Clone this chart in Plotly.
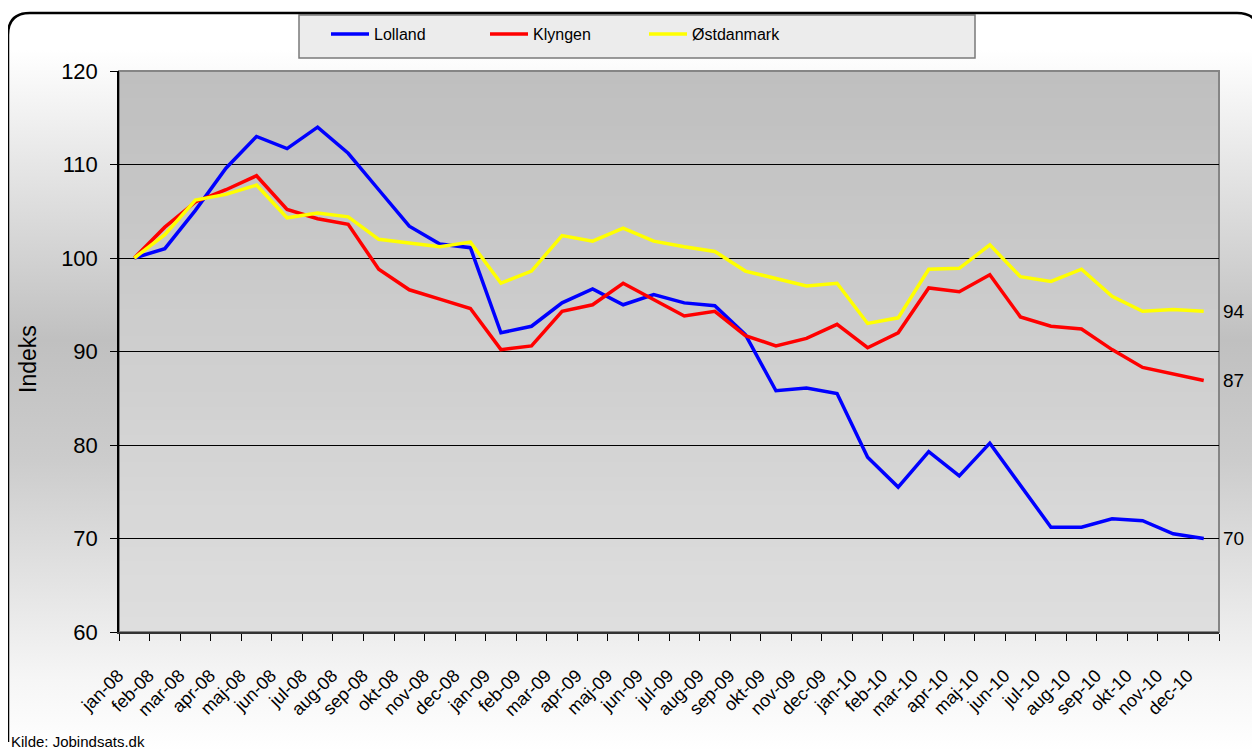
import base64
import plotly.graph_objects as go

months = ["jan", "feb", "mar", "apr", "maj", "jun", "jul", "aug", "sep", "okt", "nov", "dec"]
categories = [f"{m}-{y}" for y in ["08", "09", "10"] for m in months]

lolland = [100.0, 101.0, 105.1, 109.6, 113.0, 111.7, 114.0, 111.2, 107.3, 103.4, 101.5, 101.1,
           92.0, 92.7, 95.2, 96.7, 95.0, 96.1, 95.2, 94.9, 91.8, 85.8, 86.1, 85.5,
           78.7, 75.5, 79.3, 76.7, 80.2, 75.7, 71.2, 71.2, 72.1, 71.9, 70.5, 70.0]
klyngen = [100.0, 103.3, 106.0, 107.3, 108.8, 105.2, 104.2, 103.6, 98.8, 96.6, 95.6, 94.6,
           90.2, 90.6, 94.3, 95.0, 97.3, 95.5, 93.8, 94.3, 91.7, 90.6, 91.4, 92.9,
           90.4, 92.0, 96.8, 96.4, 98.2, 93.7, 92.7, 92.4, 90.2, 88.3, 87.6, 86.9]
ostdanmark = [100.0, 102.5, 106.2, 106.8, 107.8, 104.3, 104.8, 104.4, 102.0, 101.6, 101.2, 101.7,
              97.3, 98.6, 102.4, 101.8, 103.2, 101.8, 101.2, 100.7, 98.6, 97.8, 97.0, 97.3,
              93.0, 93.6, 98.8, 98.9, 101.4, 98.0, 97.5, 98.8, 95.9, 94.3, 94.5, 94.3]

series = [("Lolland", lolland, "#0000ff"),
          ("Klyngen", klyngen, "#ff0000"),
          ("Østdanmark", ostdanmark, "#ffff00")]

y_ticks = [60, 70, 80, 90, 100, 110, 120]

# page geometry (the page body adds an 8px offset)
OFF = 8
PW, PH = 1260, 751
W, H = PW - OFF, PH - OFF
L, R, T, B = 119, 1219, 71, 632  # plot area in page pixels
FONT = "Liberation Sans, Arial, sans-serif"


def fx(p):  # page x pixel -> figure paper fraction
    return (p - OFF) / W


def fy(p):  # page y pixel -> figure paper fraction
    return 1 - (p - OFF) / H


def lerp_color(c1, c2, t):
    r = [int(round(a + (b - a) * t)) for a, b in zip(c1, c2)]
    return f"rgb({r[0]},{r[1]},{r[2]})"


# outer background: vertical gradient white -> gray -> white, as an SVG image
stops = [(0, 255), (50, 255), (340, 192), (460, 204), (680, 246), (751, 255)]
stop_xml = "".join(
    f'<stop offset="{max(0.0, (y - OFF) / H):.4f}" stop-color="rgb({g},{g},{g})"/>' for y, g in stops)
svg = (f'<svg xmlns="http://www.w3.org/2000/svg" width="{W}" height="{H}" '
       f'viewBox="0 0 {W} {H}" preserveAspectRatio="none">'
       f'<defs><linearGradient id="g" x1="0" y1="0" x2="0" y2="1">{stop_xml}</linearGradient></defs>'
       f'<rect x="0" y="0" width="{W}" height="{H}" fill="url(#g)"/></svg>')
bg_uri = "data:image/svg+xml;base64," + base64.b64encode(svg.encode()).decode()

fig = go.Figure()
for name, vals, col in series:
    fig.add_trace(go.Scatter(x=categories, y=vals, name=name, mode="lines",
                             line=dict(color=col, width=3.5)))

shapes = []
npb = 40
for i in range(npb):
    t = i / (npb - 1)
    shapes.append(dict(type="rect", xref="x domain", yref="y domain", layer="below",
                       x0=0, x1=1, y0=1 - (i + 1) / npb, y1=1 - i / npb + 0.002,
                       fillcolor=lerp_color((191, 191, 191), (222, 222, 222), t),
                       line=dict(width=0)))
shapes.append(dict(type="rect", xref="x domain", yref="y domain", layer="below",
                   x0=0, x1=1, y0=0, y1=1, line=dict(color="#858585", width=2)))
shapes.append(dict(type="rect", xref="paper", yref="paper", layer="above",
                   x0=fx(299), x1=fx(975), y0=fy(58), y1=fy(15),
                   fillcolor="rgba(236,236,236,1)", line=dict(color="#7a7a7a", width=1.5)))
path = (f"M {fx(8)},{fy(742)} L {fx(8)},{fy(35)} Q {fx(8)},{fy(13)} {fx(30)},{fy(13)} "
        f"L {fx(1237)},{fy(13)} Q {fx(1259)},{fy(13)} {fx(1259)},{fy(35)} L {fx(1259)},{fy(742)}")
shapes.append(dict(type="path", xref="paper", yref="paper", layer="above", path=path,
                   fillcolor="rgba(0,0,0,0)", line=dict(color="black", width=2.5)))

annotations = []
for name, vals, col in series:
    annotations.append(dict(xref="x domain", yref="y", x=1, y=vals[-1], xanchor="left",
                            yanchor="middle", xshift=2, showarrow=False,
                            text=str(int(round(vals[-1]))),
                            font=dict(family=FONT, size=19, color="black")))
annotations.append(dict(xref="paper", yref="paper", x=fx(28), y=fy(359), text="Indeks",
                        textangle=-90, showarrow=False, xanchor="center", yanchor="middle",
                        font=dict(family=FONT, size=23, color="black")))
annotations.append(dict(xref="paper", yref="paper", x=fx(9), y=fy(741), text="Kilde: Jobindsats.dk",
                        showarrow=False, xanchor="left", yanchor="middle",
                        font=dict(family=FONT, size=15, color="black")))

fig.update_layout(
    width=W, height=H,
    margin=dict(l=0, r=0, t=0, b=0, autoexpand=False),
    paper_bgcolor="white",
    plot_bgcolor="rgba(0,0,0,0)",
    font=dict(family=FONT, color="black"),
    showlegend=True,
    legend=dict(orientation="h", x=fx(326), y=fy(17), xanchor="left", yanchor="top",
                bgcolor="rgba(0,0,0,0)", borderwidth=0, entrywidth=106,
                entrywidthmode="pixels", font=dict(family=FONT, size=16, color="black"),
                itemwidth=38, tracegroupgap=0),
    images=[dict(source=bg_uri, xref="paper", yref="paper", x=0, y=1, sizex=1, sizey=1,
                 xanchor="left", yanchor="top", sizing="stretch", layer="below", opacity=1)],
    shapes=shapes,
    annotations=annotations,
    xaxis=dict(domain=[fx(L), fx(R)],
               type="category", categoryorder="array", categoryarray=categories,
               range=[-0.5, len(categories) - 0.5], tickmode="array",
               tickvals=categories, ticktext=categories, tickangle=-45,
               tickson="boundaries", ticks="outside", ticklen=7, tickcolor="black",
               tickwidth=1, showgrid=False, showline=True, linecolor="#333333",
               linewidth=2, tickfont=dict(family=FONT, size=18, color="black"),
               ticklabelstandoff=24, ticklabelshift=-16,
               zeroline=False, fixedrange=True),
    yaxis=dict(domain=[fy(B), fy(T)],
               range=[60, 120], tickvals=y_ticks, ticks="outside", ticklen=7,
               tickcolor="black", showgrid=True, gridcolor="black", gridwidth=1,
               showline=True, linecolor="black", linewidth=1.5, zeroline=False,
               ticklabelstandoff=8,
               tickfont=dict(family=FONT, size=22, color="black"), fixedrange=True),
)

fig.write_html("out.html")
